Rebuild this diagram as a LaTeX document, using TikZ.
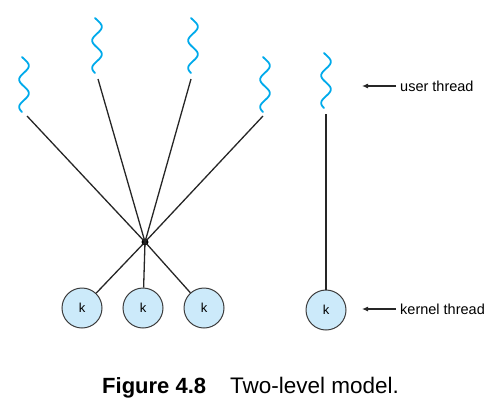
\documentclass[tikz,border=0pt]{standalone}
\usepackage{fontspec}
\setmainfont{Liberation Sans}
\usetikzlibrary{arrows.meta}
\definecolor{squig}{RGB}{0,170,235}
\definecolor{kfill}{RGB}{204,234,250}
\definecolor{kdraw}{RGB}{60,60,60}
\tikzset{
  squiggle/.style={draw=squig, line width=1.8pt, line cap=round},
  link/.style={draw=black!85, line width=1.3pt},
  kthread/.style={circle, draw=kdraw, fill=kfill, line width=1pt, minimum size=40pt, inner sep=0pt, font=\fontsize{13}{15}\selectfont},
  hubdot/.style={circle, fill=black, inner sep=0pt, minimum size=7pt},
  pointer/.style={draw=black!85, line width=1.1pt, -{Latex[length=6pt,width=5pt]}},
  lbl/.style={anchor=west, inner sep=0pt, font=\fontsize{14.5}{17}\selectfont}
}
\newcommand{\squig}[2]{\draw[squiggle] plot[domain=0:55, samples=60, smooth] ({#1+4.8*sin(\x/55*720-25)}, {#2+\x});}
\begin{document}
\begin{tikzpicture}[x=1pt,y=-1pt]
\useasboundingbox (0,0) rectangle (495,410);
% user threads (squiggles)
\squig{24}{57}
\squig{97}{18}
\squig{193}{18}
\squig{265}{57}
\squig{326}{53}
% line start points below squiggles
\coordinate (u1) at (27,116);
\coordinate (u2) at (98,79);
\coordinate (u3) at (191,79);
\coordinate (u4) at (263,116);
\coordinate (u5) at (326,114);
% hub
\node[hubdot] (hub) at (145,242) {};
% kernel threads
\node[kthread] (k1) at (82,308) {k};
\node[kthread] (k2) at (143,308) {k};
\node[kthread] (k3) at (204,308) {k};
\node[kthread] (k4) at (326,310) {k};
% connectors
\draw[link] (u1) -- (hub.center);
\draw[link] (u2) -- (hub.center);
\draw[link] (u3) -- (hub.center);
\draw[link] (u4) -- (hub.center);
\draw[link] (hub.center) -- (k1);
\draw[link] (hub.center) -- (k2);
\draw[link] (hub.center) -- (k3);
\draw[link] (u5) -- (k4);
% labels
\node[lbl] (lu) at (400,86) {user thread};
\node[lbl] (lk) at (400,309) {kernel thread};
\coordinate (au) at (362,86);
\coordinate (ak) at (362,309);
\draw[pointer] ([xshift=-4pt]lu.west) -- (au);
\draw[pointer] ([xshift=-4pt]lk.west) -- (ak);
% caption
\node[anchor=base west, inner sep=0pt, font=\fontsize{22}{26}\bfseries] (capa) at (102,393) {Figure 4.8};
\node[anchor=base west, inner sep=0pt, font=\fontsize{22.5}{26}\selectfont] (capb) at (230,393) {Two-level model.};
\end{tikzpicture}
\end{document}
